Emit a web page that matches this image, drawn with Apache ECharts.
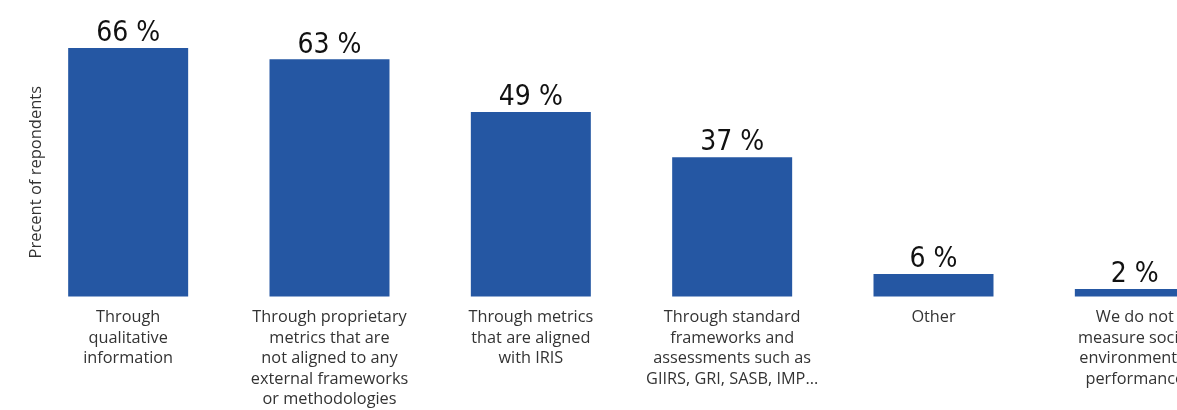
<!DOCTYPE html>
<html>
<head>
<meta charset="utf-8">
<script src="https://cdn.jsdelivr.net/npm/echarts@6/dist/echarts.min.js"></script>
<style>html,body{margin:0;padding:0;background:#fff;overflow:hidden;width:1177px;height:410px;}#c{width:1240px;height:410px;}</style>
</head>
<body>
<div id="c"></div>
<script>
const categories = [
  "Through\nqualitative\ninformation",
  "Through proprietary\nmetrics that are\nnot aligned to any\nexternal frameworks\nor methodologies",
  "Through metrics\nthat are aligned\nwith IRIS",
  "Through standard\nframeworks and\nassessments such as\nGIIRS, GRI, SASB, IMP...",
  "Other",
  "We do not\nmeasure social\nenvironmental\nperformance"
];
const values = [66, 63, 49, 37, 6, 2];
const yAxisName = "Precent of repondents";

const chart = echarts.init(document.getElementById('c'));
chart.setOption({
  animation: false,
  grid: { left: 27.5, right: 4.5, top: 48, bottom: 111, containLabel: false },
  xAxis: {
    type: 'category',
    data: categories,
    axisLine: { show: false },
    axisTick: { show: false },
    axisLabel: {
      interval: 0,
      margin: 11,
      fontFamily: 'Open Sans',
      fontSize: 16.3,
      lineHeight: 20.5,
      color: '#333',
      align: 'center',
      verticalAlign: 'top'
    }
  },
  yAxis: {
    type: 'value',
    min: 0,
    max: 66,
    show: true,
    axisLine: { show: false },
    axisTick: { show: false },
    axisLabel: { show: false },
    splitLine: { show: false },
    name: yAxisName,
    nameLocation: 'middle',
    nameGap: -17,
    nameRotate: 90,
    nameTextStyle: { fontFamily: 'Open Sans', fontSize: 16.5, color: '#333' }
  },
  series: [{
    type: 'bar',
    data: values,
    barWidth: '59.6%',
    itemStyle: { color: '#2557a3' },
    label: {
      show: true,
      position: 'top',
      distance: 0,
      formatter: '{c} %',
      fontFamily: '"DejaVu Sans Condensed", "Liberation Sans Narrow", Roboto, sans-serif',
      fontSize: 28,
      color: '#111'
    }
  }]
});
</script>
</body>
</html>
